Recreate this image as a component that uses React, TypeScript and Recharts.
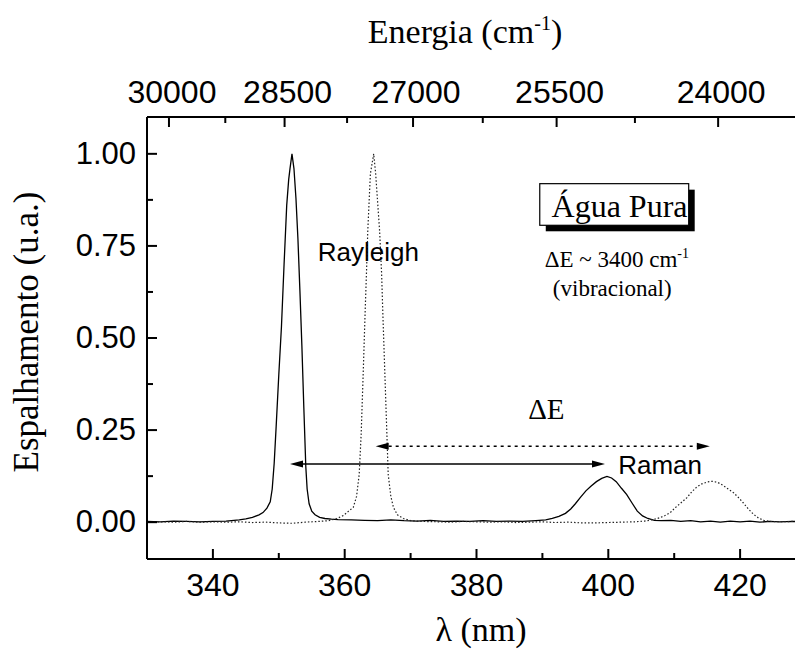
import { LineChart, Line, XAxis, YAxis, ReferenceDot, ReferenceLine, ReferenceArea } from 'recharts'

const SANS = 'Arial, "Liberation Sans", sans-serif'
const SERIF = '"Times New Roman", "Liberation Serif", serif'

// Wavelength (nm) / intensity
const solidNm = [
  330, 332, 334, 336, 338, 340, 342, 344, 345, 346, 347, 347.6, 348.2, 348.7, 349.0, 349.3, 349.6, 350.0, 350.4,
  350.8, 351.2, 351.5, 351.7, 352.0, 352.3, 352.6, 352.9, 353.2, 353.5, 353.8, 354.1, 354.3, 354.6, 355.0, 355.5,
  356.2, 357, 358, 359, 361, 363, 365, 367, 369, 371, 373, 375, 377, 379, 381, 383, 385, 387, 389, 390.5, 391.5,
  392.5, 393.5, 394.3, 395.0, 395.8, 396.6, 397.4, 398.2, 399.0, 399.8, 400.5, 401.2, 402.0, 402.8, 403.6, 404.4,
  405.2, 406.0, 407.0, 408, 409.5, 411, 412.5, 414, 415.5, 417, 418.5, 420, 421.5, 423, 424.5, 426, 428, 430,
]
const solidVal = [
  0.002, 0.001, 0.003, 0.002, 0.001, 0.002, 0.003, 0.006, 0.009, 0.013, 0.02, 0.026, 0.038, 0.055, 0.09, 0.16, 0.26,
  0.4, 0.53, 0.7, 0.86, 0.93, 0.96, 1.0, 0.96, 0.88, 0.77, 0.63, 0.48, 0.31, 0.15, 0.09, 0.05, 0.03, 0.02, 0.013,
  0.01, 0.008, 0.007, 0.006, 0.005, 0.004, 0.006, 0.004, 0.003, 0.005, 0.002, 0.003, 0.002, 0.004, 0.002, 0.003,
  0.002, 0.004, 0.006, 0.01, 0.016, 0.024, 0.036, 0.05, 0.068, 0.085, 0.098, 0.11, 0.119, 0.124, 0.12, 0.11, 0.092,
  0.075, 0.052, 0.03, 0.017, 0.01, 0.005, 0.004, 0.005, 0.002, 0.004, 0.001, 0.003, 0.0, 0.003, 0.001, 0.003, 0.0,
  0.002, 0.001, 0.002, 0.001,
]

const dottedNm = [
  330, 332, 334, 336, 338, 340, 342, 344, 346, 348, 350, 352, 354, 356, 357.5, 358.8, 359.8, 360.6, 361.3, 361.8,
  362.2, 362.5, 362.8, 363.1, 363.3, 363.5, 363.9, 364.4, 364.7, 365.3, 365.6, 365.8, 366.1, 366.4, 366.6, 367.0,
  367.4, 368.0, 368.9, 370, 372, 374, 376, 378, 380, 382, 384, 386, 388, 390, 392, 394, 396, 398, 400, 402, 404,
  405.5, 406.8, 407.8, 408.6, 409.4, 410.2, 411.0, 411.9, 412.7, 413.4, 414.2, 415.0, 415.8, 416.6, 417.4, 418.2,
  419.0, 419.8, 420.5, 421.2, 422.0, 422.8, 423.6, 424.5, 426, 428, 430,
]
const dottedVal = [
  0.0, 0.001, 0.0, 0.002, 0.0, 0.001, 0.0, 0.001, -0.001, 0.0, -0.002, -0.003, 0.0, 0.002, 0.004, 0.01, 0.018, 0.03,
  0.04, 0.07, 0.13, 0.24, 0.4, 0.57, 0.675, 0.79, 0.946, 1.0, 0.946, 0.79, 0.675, 0.56, 0.4, 0.24, 0.13, 0.07, 0.04,
  0.02, 0.01, 0.004, 0.002, 0.001, 0.0, 0.002, 0.001, 0.0, 0.001, -0.001, 0.0, 0.001, -0.001, 0.0, -0.002, -0.002,
  -0.001, 0.0, 0.001, 0.003, 0.007, 0.012, 0.018, 0.026, 0.04, 0.052, 0.066, 0.083, 0.095, 0.104, 0.109, 0.111,
  0.108, 0.1, 0.09, 0.08, 0.066, 0.052, 0.037, 0.022, 0.011, 0.005, 0.002, 0.001, 0.002, 0.001,
]

const xMajor = [340, 360, 380, 400, 420]
const xMinor = [350, 370, 390, 410]
const yMajor = [0, 0.25, 0.5, 0.75, 1.0]
const yMinor = [0.125, 0.375, 0.625, 0.875]
const energyMajor = [30000, 28500, 27000, 25500, 24000]
const energyMinor = [29250, 27750, 26250, 24750]

const solidData = solidNm.map((nm, i) => ({ nm, v: solidVal[i] }))
const dottedData = dottedNm.map((nm, i) => ({ nm, v: dottedVal[i] }))
const toNm = (e: number) => 1e7 / e

function BottomTick({ x, y, payload }: any) {
  const major = xMajor.includes(payload.value)
  return (
    <g>
      <line x1={x} y1={y} x2={x} y2={y - (major ? 10 : 6)} stroke="#000" strokeWidth={2} />
      {major && (
        <text x={x} y={y + 37} textAnchor="middle" fontSize={32} fontFamily={SANS} fill="#000">
          {payload.value}
        </text>
      )}
    </g>
  )
}

function TopTick({ x, y, payload }: any) {
  const e = Math.round(1e7 / payload.value)
  const major = energyMajor.includes(e)
  return (
    <g>
      <line x1={x} y1={y} x2={x} y2={y + (major ? 10 : 6)} stroke="#000" strokeWidth={2} />
      {major && (
        <text x={x + 3} y={y - 14} textAnchor="middle" fontSize={32} fontFamily={SANS} fill="#000">
          {e}
        </text>
      )}
    </g>
  )
}

function LeftTick({ x, y, payload }: any) {
  const major = yMajor.includes(payload.value)
  return (
    <g>
      <line x1={x} y1={y} x2={x + (major ? 10 : 6)} y2={y} stroke="#000" strokeWidth={2} />
      {major && (
        <text x={x - 11} y={y + 10} textAnchor="end" fontSize={31} fontFamily={SANS} fill="#000">
          {payload.value.toFixed(2)}
        </text>
      )}
    </g>
  )
}

function RightTick({ x, y, payload }: any) {
  const major = yMajor.includes(payload.value)
  return <line x1={x} y1={y} x2={x - (major ? 10 : 6)} y2={y} stroke="#000" strokeWidth={2} />
}

function arrowShape(dashed: boolean) {
  return (p: any) => {
    const { x1, y1, x2, y2 } = p
    const head = 13
    const half = 3.5
    return (
      <g>
        <line
          x1={x1 + head}
          y1={y1}
          x2={x2 - head}
          y2={y2}
          stroke="#000"
          strokeWidth={1.5}
          strokeDasharray={dashed ? '3 4' : undefined}
        />
        <polygon points={`${x1},${y1} ${x1 + head},${y1 - half} ${x1 + head},${y1 + half}`} fill="#000" />
        <polygon points={`${x2},${y2} ${x2 - head},${y2 - half} ${x2 - head},${y2 + half}`} fill="#000" />
      </g>
    )
  }
}

function textShape(content: any, size: number, family: string, anchor: string = 'start') {
  return (p: any) => (
    <text x={p.cx} y={p.cy} fontSize={size} fontFamily={family} textAnchor={anchor} fill="#000">
      {content}
    </text>
  )
}

function boxShape(p: any) {
  const { x, y, width, height } = p
  return (
    <g>
      <rect x={x + 6} y={y + 6} width={width} height={height} fill="#000" />
      <rect x={x} y={y} width={width} height={height} fill="#fff" stroke="#000" strokeWidth={1.2} />
    </g>
  )
}

export default function App() {
  return (
    <div
      style={{
        position: 'absolute',
        left: 0,
        top: 0,
        width: 795,
        height: 652,
        overflow: 'hidden',
        background: '#fff',
      }}
    >
      <LineChart width={820} height={652} margin={{ top: 0, right: 13, bottom: 0, left: 0 }}>
        <XAxis
          xAxisId="bottom"
          dataKey="nm"
          type="number"
          domain={[330, 430]}
          allowDataOverflow
          ticks={[...xMajor, ...xMinor]}
          interval={0}
          height={93}
          tickSize={0}
          tickMargin={0}
          tickLine={false}
          axisLine={{ stroke: '#000', strokeWidth: 2 }}
          tick={<BottomTick />}
        />
        <XAxis
          xAxisId="top"
          orientation="top"
          dataKey="nm"
          type="number"
          domain={[330, 430]}
          allowDataOverflow
          ticks={[...energyMajor, ...energyMinor].map(toNm)}
          interval={0}
          height={117}
          tickSize={0}
          tickMargin={0}
          tickLine={false}
          axisLine={{ stroke: '#000', strokeWidth: 2 }}
          tick={<TopTick />}
        />
        <YAxis
          yAxisId="left"
          type="number"
          domain={[-0.1, 1.1]}
          allowDataOverflow
          ticks={[...yMajor, ...yMinor]}
          interval={0}
          width={147}
          tickSize={0}
          tickMargin={0}
          tickLine={false}
          axisLine={{ stroke: '#000', strokeWidth: 2 }}
          tick={<LeftTick />}
        />
        <YAxis
          yAxisId="right"
          orientation="right"
          type="number"
          domain={[-0.1, 1.1]}
          allowDataOverflow
          ticks={[...yMajor, ...yMinor]}
          interval={0}
          width={1}
          tickSize={0}
          tickMargin={0}
          tickLine={false}
          axisLine={{ stroke: '#000', strokeWidth: 2 }}
          tick={<RightTick />}
        />
        <Line
          xAxisId="bottom"
          yAxisId="left"
          data={solidData}
          dataKey="v"
          type="linear"
          stroke="#000"
          strokeWidth={1.3}
          dot={false}
          activeDot={false}
          isAnimationActive={false}
        />
        <Line
          xAxisId="top"
          yAxisId="right"
          data={dottedData}
          dataKey="v"
          type="linear"
          stroke="#222"
          strokeWidth={1.2}
          strokeDasharray="1.5 2"
          dot={false}
          activeDot={false}
          isAnimationActive={false}
        />
        <ReferenceArea
          xAxisId="bottom"
          yAxisId="left"
          x1={389.6}
          x2={412.2}
          y1={0.806}
          y2={0.919}
          shape={boxShape}
        />
        <ReferenceDot xAxisId="bottom" yAxisId="left" x={401.7} y={0.828} r={0} shape={textShape('Água Pura', 32, SERIF, 'middle')} />
        <ReferenceDot
          xAxisId="bottom"
          yAxisId="left"
          x={401.3}
          y={0.692}
          r={0}
          shape={textShape(
            <>
              ΔE ~ 3400 cm<tspan dy={-9} fontSize={14}>-1</tspan>
            </>,
            23,
            SERIF,
            'middle'
          )}
        />
        <ReferenceDot xAxisId="bottom" yAxisId="left" x={400.6} y={0.615} r={0} shape={textShape('(vibracional)', 23, SERIF, 'middle')} />
        <ReferenceDot xAxisId="bottom" yAxisId="left" x={355.9} y={0.71} r={0} shape={textShape('Rayleigh', 26, SANS)} />
        <ReferenceDot xAxisId="bottom" yAxisId="left" x={401.5} y={0.132} r={0} shape={textShape('Raman', 26, SANS)} />
        <ReferenceDot xAxisId="bottom" yAxisId="left" x={390.6} y={0.281} r={0} shape={textShape('ΔE', 29, SERIF, 'middle')} />
        <ReferenceLine
          xAxisId="bottom"
          yAxisId="left"
          segment={[{ x: 351.7, y: 0.158 }, { x: 399.5, y: 0.158 }]}
          shape={arrowShape(false)}
        />
        <ReferenceLine
          xAxisId="bottom"
          yAxisId="left"
          segment={[{ x: 364.7, y: 0.206 }, { x: 415.4, y: 0.206 }]}
          shape={arrowShape(true)}
        />
      </LineChart>
      <svg width={795} height={652} style={{ position: 'absolute', left: 0, top: 0, pointerEvents: 'none' }}>
        <text x={465} y={43} textAnchor="middle" fontSize={34} fontFamily={SERIF} fill="#000">
          Energia (cm<tspan dy={-13} fontSize={20}>-1</tspan>
          <tspan dy={13}>)</tspan>
        </text>
        <text x={481} y={641} textAnchor="middle" fontSize={34} fontFamily={SERIF} fill="#000">
          λ (nm)
        </text>
        <text
          x={38}
          y={332}
          textAnchor="middle"
          fontSize={35}
          fontFamily={SERIF}
          fill="#000"
          transform="rotate(-90 38 332)"
        >
          Espalhamento (u.a.)
        </text>
      </svg>
    </div>
  )
}
